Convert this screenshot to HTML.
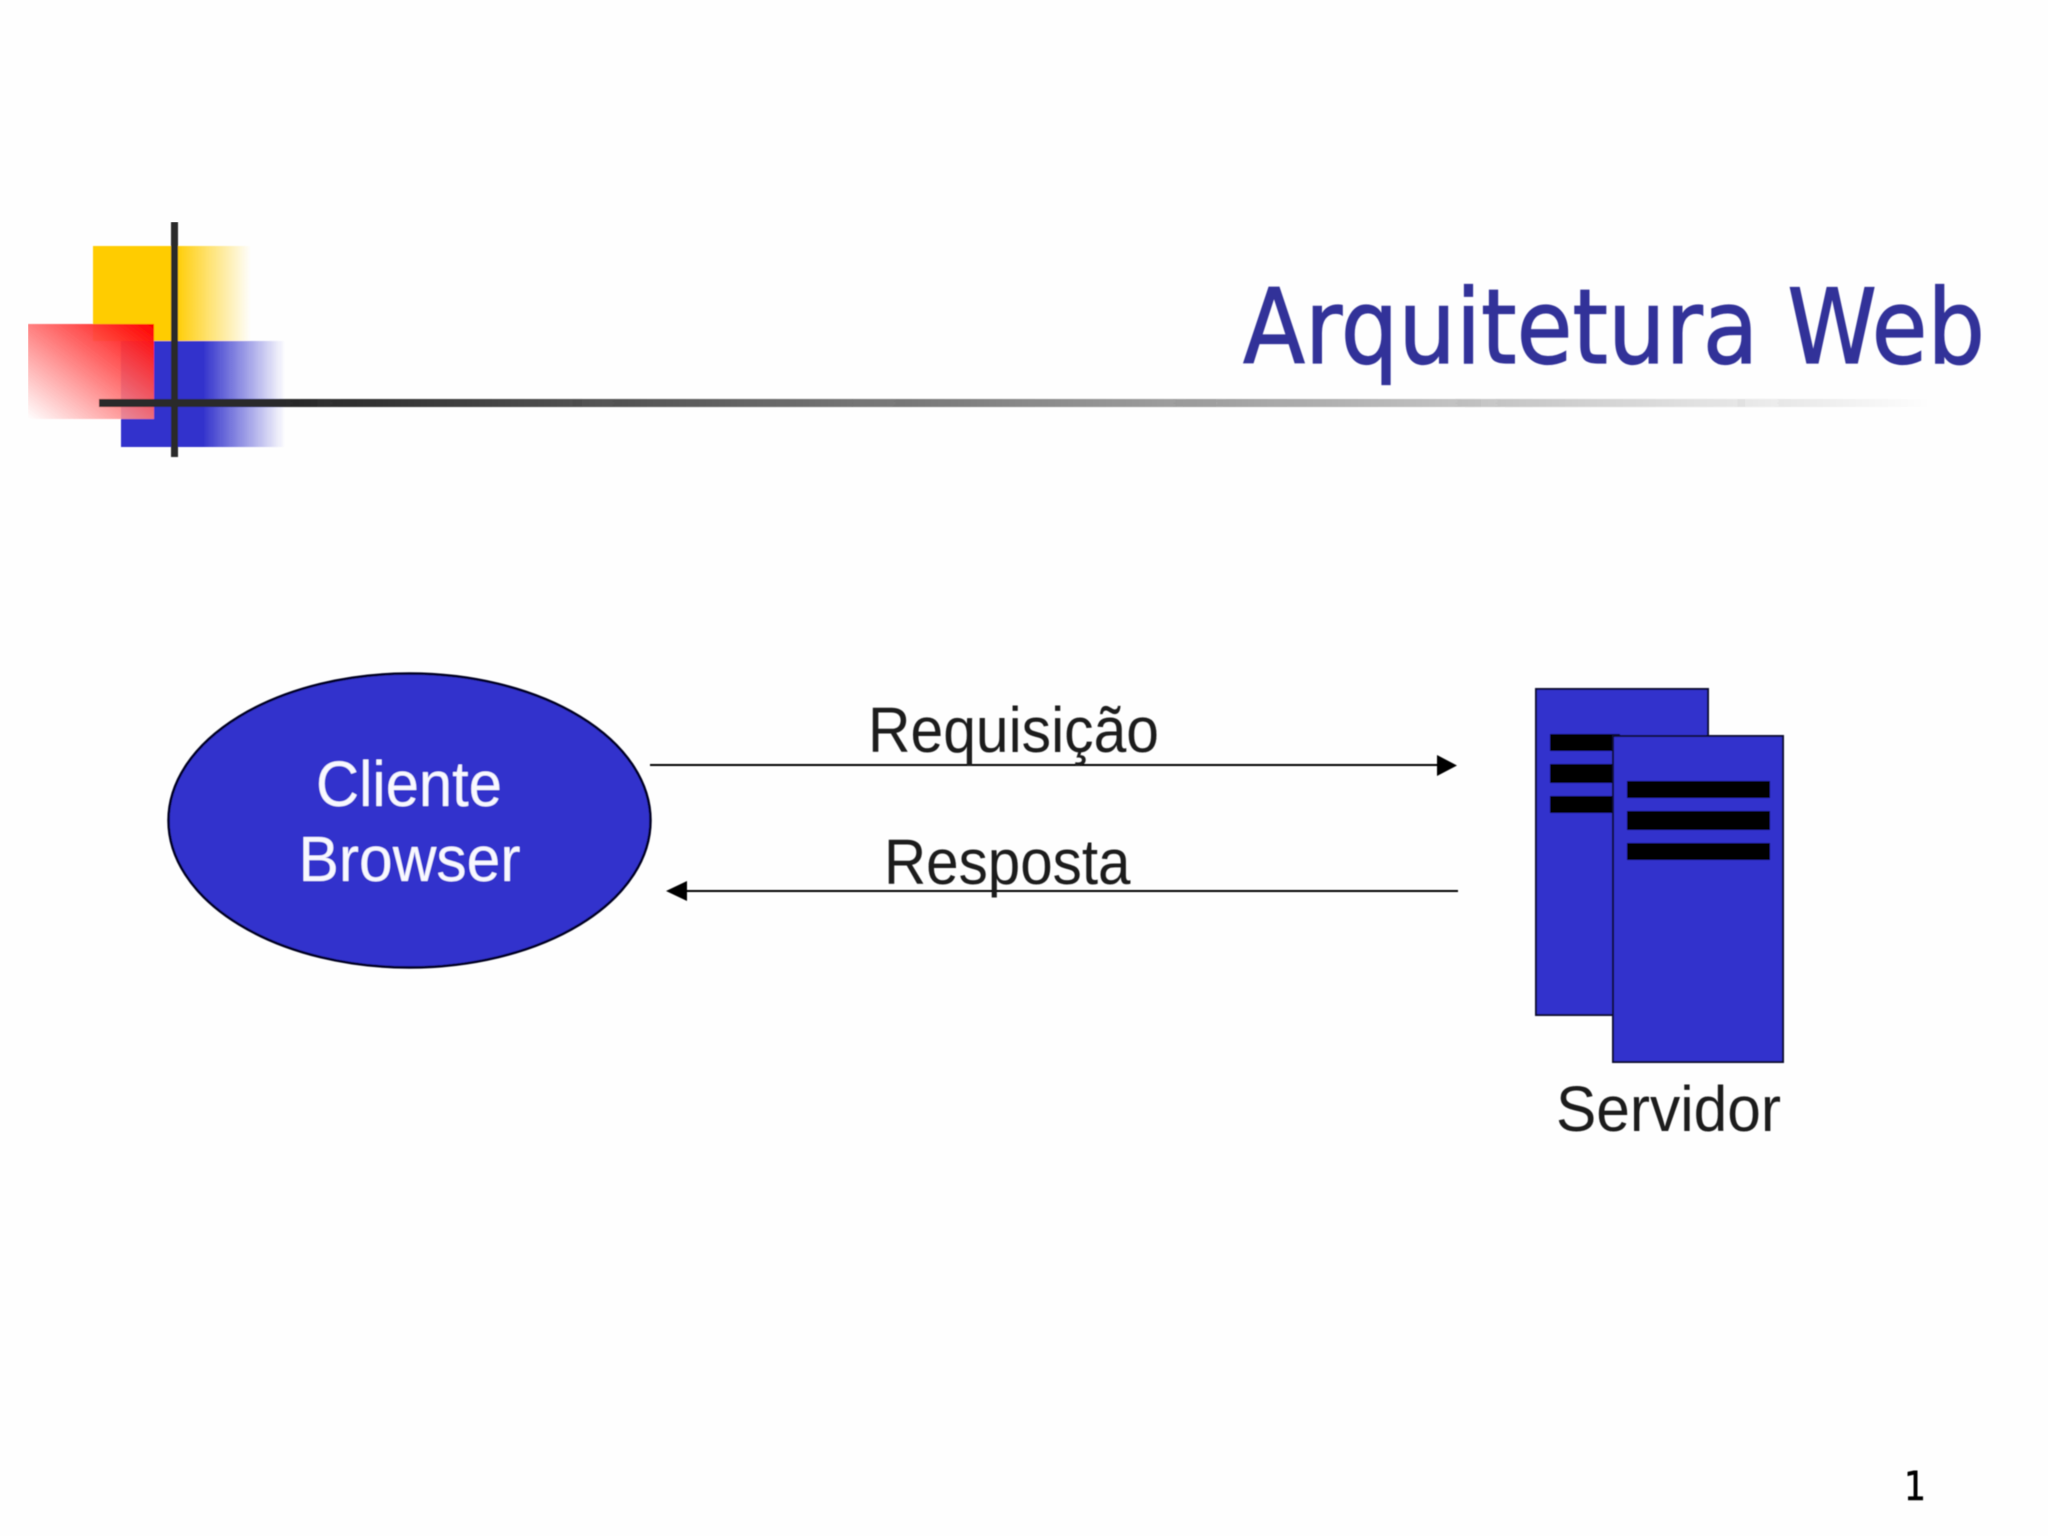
<!DOCTYPE html>
<html lang="pt">
<head>
<meta charset="utf-8">
<title>Arquitetura Web</title>
<style>
html,body{margin:0;padding:0;background:#fefefe;}
svg{display:block;}
</style>
</head>
<body>
<svg xmlns="http://www.w3.org/2000/svg" width="2048" height="1536" viewBox="0 0 2048 1536">
<defs>
<linearGradient id="gy" x1="0" y1="0" x2="1" y2="0">
<stop offset="0" stop-color="#ffcc00"/>
<stop offset="0.52" stop-color="#ffcc00"/>
<stop offset="1" stop-color="#ffcc00" stop-opacity="0"/>
</linearGradient>
<linearGradient id="gb" x1="0" y1="0" x2="1" y2="0">
<stop offset="0" stop-color="#3333cc"/>
<stop offset="0.5" stop-color="#3333cc"/>
<stop offset="1" stop-color="#3333cc" stop-opacity="0"/>
</linearGradient>
<linearGradient id="gr" x1="1" y1="0" x2="0" y2="1">
<stop offset="0" stop-color="#ff0000"/>
<stop offset="1" stop-color="#ff0000" stop-opacity="0"/>
</linearGradient>
<linearGradient id="gl" gradientUnits="userSpaceOnUse" x1="99" y1="0" x2="1930" y2="0">
<stop offset="0" stop-color="#292929"/>
<stop offset="0.1" stop-color="#292929"/>
<stop offset="1" stop-color="#292929" stop-opacity="0"/>
</linearGradient>
<filter id="soft" x="0" y="0" width="100%" height="100%"><feGaussianBlur stdDeviation="0.5"/></filter>
</defs>
<rect width="2048" height="1536" fill="#fefefe"/>
<g filter="url(#soft)">
<!-- logo -->
<rect x="93" y="246" width="158" height="95" fill="url(#gy)"/>
<rect x="121" y="341" width="164" height="106" fill="url(#gb)"/>
<rect x="28" y="324" width="126" height="95" fill="#fff" opacity="0.82"/>
<rect x="28" y="324" width="126" height="95" fill="url(#gr)"/>
<rect x="171" y="222" width="7" height="235" fill="#292929"/>
<rect x="99" y="399" width="1831" height="8" fill="url(#gl)"/>

<!-- title -->
<text x="1243" y="363" font-family="'DejaVu Sans',sans-serif" font-size="103" fill="#333399" stroke="#333399" stroke-width="1.2" textLength="742" lengthAdjust="spacingAndGlyphs">Arquitetura Web</text>

<!-- client -->
<ellipse cx="409.5" cy="820.5" rx="241" ry="147" fill="#3333cc" stroke="#000020" stroke-width="2.5"/>
<text x="316" y="806" font-family="'Liberation Sans',sans-serif" font-size="64" fill="#f8f8ff" textLength="186" lengthAdjust="spacingAndGlyphs">Cliente</text>
<text x="298.5" y="881" font-family="'Liberation Sans',sans-serif" font-size="64" fill="#f8f8ff" textLength="222" lengthAdjust="spacingAndGlyphs">Browser</text>

<!-- connectors -->
<line x1="650" y1="765" x2="1440" y2="765" stroke="#000" stroke-width="2"/>
<polygon points="1437,755 1457,765.5 1437,776" fill="#000"/>
<line x1="1458" y1="891" x2="685" y2="891" stroke="#000" stroke-width="2"/>
<polygon points="687,881 666,891 687,901" fill="#000"/>
<text x="868" y="752" font-family="'Liberation Sans',sans-serif" font-size="64" fill="#1a1a1a" textLength="291" lengthAdjust="spacingAndGlyphs">Requisição</text>
<text x="884" y="884" font-family="'Liberation Sans',sans-serif" font-size="64" fill="#1a1a1a" textLength="246.5" lengthAdjust="spacingAndGlyphs">Resposta</text>

<!-- server -->
<rect x="1536" y="689" width="172" height="326" fill="#3333cc" stroke="#0a0a30" stroke-width="2"/>
<rect x="1550" y="734" width="70" height="17" fill="#000"/>
<rect x="1550" y="764" width="70" height="19" fill="#000"/>
<rect x="1550" y="796" width="70" height="17" fill="#000"/>
<rect x="1613" y="736" width="170" height="326" fill="#3333cc" stroke="#0a0a30" stroke-width="2"/>
<rect x="1627" y="781" width="143" height="17" fill="#000"/>
<rect x="1627" y="811" width="143" height="19" fill="#000"/>
<rect x="1627" y="843" width="143" height="17" fill="#000"/>
<text x="1556" y="1131" font-family="'Liberation Sans',sans-serif" font-size="64" fill="#1a1a1a" textLength="225" lengthAdjust="spacingAndGlyphs">Servidor</text>

<!-- page number -->
<text x="1904" y="1500" font-family="'DejaVu Sans',sans-serif" font-size="40" fill="#000" stroke="#000" stroke-width="0.6" textLength="22" lengthAdjust="spacingAndGlyphs">1</text>
</g>
</svg>
</body>
</html>
